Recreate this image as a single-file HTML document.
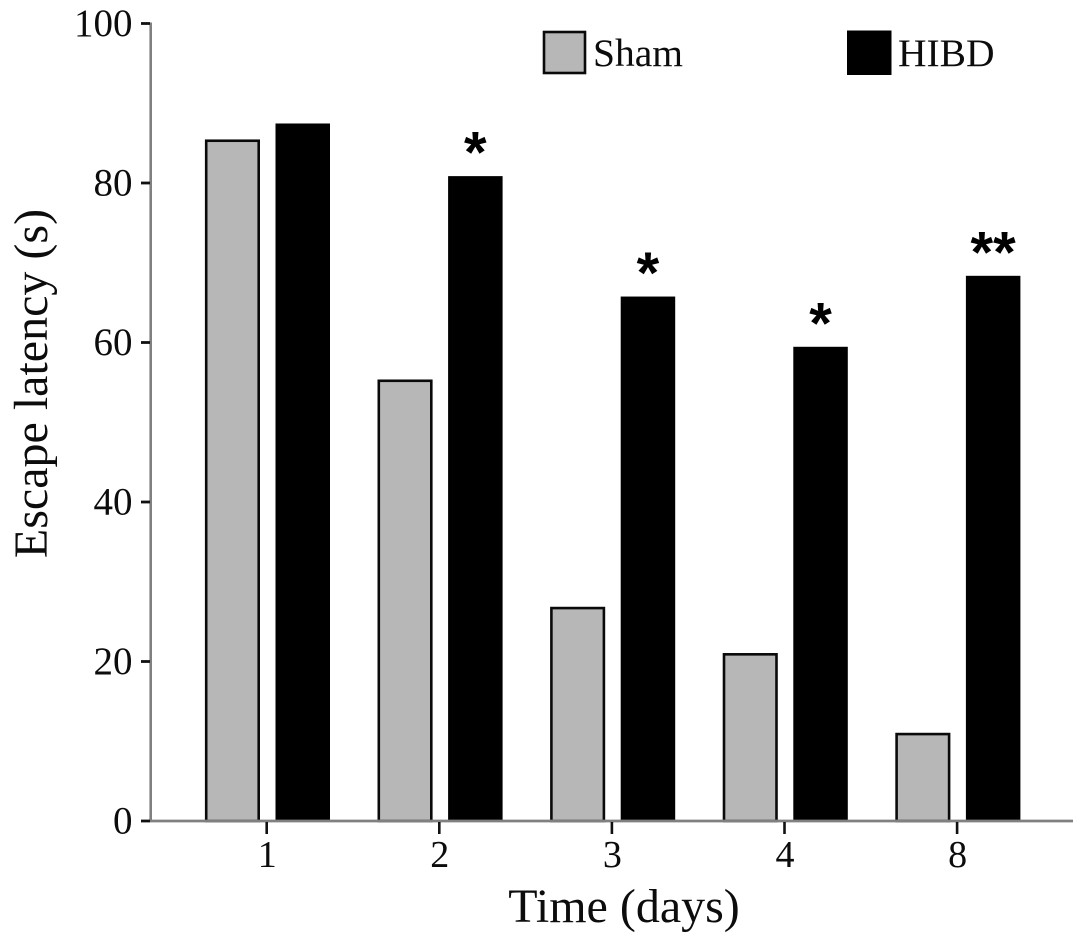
<!DOCTYPE html>
<html>
<head>
<meta charset="utf-8">
<title>Escape latency chart</title>
<style>
html,body{margin:0;padding:0;background:#fff;}
svg{display:block;}
text{font-family:"Liberation Serif",serif;fill:#0c0c0c;}
</style>
</head>
<body>
<svg id="chart" width="1087" height="947" viewBox="0 0 1087 947" xmlns="http://www.w3.org/2000/svg">
  <rect x="0" y="0" width="1087" height="947" fill="#ffffff"/>
  <g id="marks"></g>
  <line x1="150.7" y1="22.5" x2="150.7" y2="821" stroke="#808080" stroke-width="2.6"/>
  <line x1="150" y1="821" x2="1073" y2="821" stroke="#808080" stroke-width="2.8"/>
  <g id="axes"></g>
  <text transform="translate(47,383.5) rotate(-90)" text-anchor="middle" font-size="48">Escape latency (s)</text>
  <text x="624" y="922" text-anchor="middle" font-size="48">Time (days)</text>
  <g>
    <rect x="544" y="32" width="41" height="41" fill="#b7b7b7" stroke="#0a0a0a" stroke-width="2.6"/>
    <text x="593" y="66" font-size="39.5">Sham</text>
    <rect x="847" y="30.5" width="44.5" height="44.5" fill="#000000"/>
    <text x="898" y="66" font-size="39.5">HIBD</text>
  </g>
</svg>
<script>
var categories = ['1', '2', '3', '4', '8'];
var shamValues = [85.3, 55.2, 26.7, 20.9, 10.9];
var hibdValues = [87.4, 80.8, 65.7, 59.4, 68.3];
var significance = ['', '*', '*', '*', '**'];
var yTicks = [0, 20, 40, 60, 80, 100];

var NS = 'http://www.w3.org/2000/svg';
function yScale(v) { return 821 - v * 7.975; }
function xScale(i) { return 266.7 + i * 172.6; }
function make(tag, attrs, parent) {
  var el = document.createElementNS(NS, tag);
  for (var k in attrs) el.setAttribute(k, attrs[k]);
  parent.appendChild(el);
  return el;
}
var marks = document.getElementById('marks');
var axes = document.getElementById('axes');

categories.forEach(function (cat, i) {
  var cx = xScale(i);

  var sTop = yScale(shamValues[i]);
  var s = make('rect', {x: cx - 60.5, y: sTop, width: 52.5, height: 821 - sTop, fill: '#b7b7b7', stroke: '#0a0a0a', 'stroke-width': 2.6}, marks);
  
  

  var hTop = yScale(hibdValues[i]);
  var h = make('rect', {x: cx + 8.8, y: hTop - 0.5, width: 54.5, height: 821 - hTop + 0.5, fill: '#000000'}, marks);
  
  

  if (significance[i]) {
    var star = make('text', {x: cx + 36, y: hTop - 4, 'text-anchor': 'middle', 'font-size': 58, 'font-weight': 'bold', 'style': 'font-family:"Liberation Sans",sans-serif;fill:#000'}, marks);
    star.textContent = significance[i];
    
    
  }

  var tick = make('line', {x1: cx, y1: 822, x2: cx, y2: 834, stroke: '#111', 'stroke-width': 2.6}, axes);
  
  

  var label = make('text', {x: cx + 0.5, y: 867, 'text-anchor': 'middle', 'font-size': 38}, axes);
  label.textContent = cat;
  
  
});

yTicks.forEach(function (v) {
  var y = yScale(v);
  var tick = make('line', {x1: 141, y1: y, x2: 150, y2: y, stroke: '#111', 'stroke-width': 2.8}, axes);
  
  

  var label = make('text', {x: 132.5, y: y + 12.5, 'text-anchor': 'end', 'font-size': 39}, axes);
  label.textContent = v;
  
  
});
</script>
</body>
</html>
